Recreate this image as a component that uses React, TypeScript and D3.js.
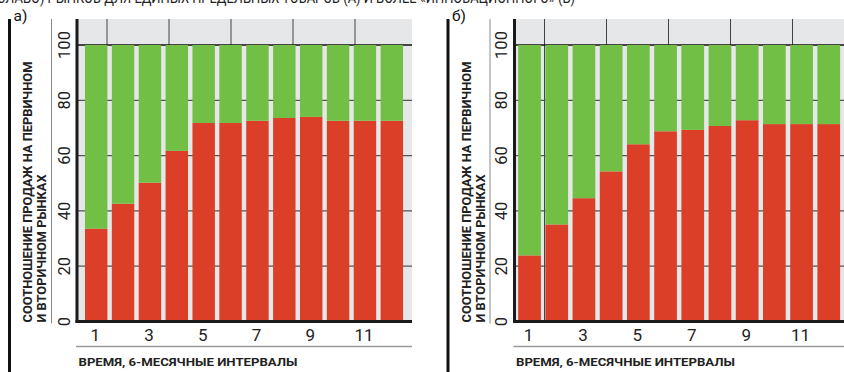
import React from 'react';
import * as d3 from 'd3';

// 6-month intervals
const intervals = [1, 2, 3, 4, 5, 6, 7, 8, 9, 10, 11, 12];
const xTickLabels = [1, 3, 5, 7, 9, 11];
const yTicks = [0, 20, 40, 60, 80, 100];

// panel а) — red (lower) and green (upper) shares, %
const redA = [33.6, 42.6, 50.2, 61.7, 71.8, 71.8, 72.6, 73.6, 74.0, 72.6, 72.6, 72.6];
const greenA = [66.4, 57.4, 49.8, 38.3, 28.2, 28.2, 27.4, 26.4, 26.0, 27.4, 27.4, 27.4];

// panel б)
const redB = [23.9, 35.1, 44.6, 54.3, 64.1, 68.8, 69.3, 70.7, 72.8, 71.4, 71.4, 71.4];
const greenB = [76.1, 64.9, 55.4, 45.7, 35.9, 31.2, 30.7, 29.3, 27.2, 28.6, 28.6, 28.6];

const yTitle1 = 'СООТНОШЕНИЕ ПРОДАЖ НА ПЕРВИЧНОМ';
const yTitle2 = 'И ВТОРИЧНОМ РЫНКАХ';
const xTitle = 'ВРЕМЯ, 6-МЕСЯЧНЫЕ ИНТЕРВАЛЫ';
const topTitle = 'СЛАБО) РЫНКОВ ДЛЯ ЕДИНЫХ ПРЕДЕЛЬНЫХ ТОВАРОВ (А) И БОЛЕЕ «ИННОВАЦИОННОГО» (Б)';

const RED = '#db3f28';
const GREEN = '#72bf45';
const BG = '#e6e7e8';
const FONT = 'Roboto, "DejaVu Sans", sans-serif';

const W = 844;
const H = 372;
const TOP = 19;

const y = d3.scaleLinear().domain([0, 100]).range([321.5, 45]);

type PanelProps = {
  label: string;
  red: number[];
  green: number[];
  borderX: number;
  axisX: number;
  plotRight: number;
  barRange: [number, number];
  longFirstLine?: boolean;
};

function Panel({ label, red, green, borderX, axisX, plotRight, barRange, longFirstLine }: PanelProps) {
  const x = d3.scaleBand<number>().domain(intervals).range(barRange).paddingInner(0.165).paddingOuter(0.08);
  const rows = intervals.map((k, i) => ({ k, red: red[i], green: green[i] }));
  const stack = d3.stack<any>().keys(['red', 'green'])(rows);
  const colors = [RED, GREEN];
  // decorative vertical rules in the top strip
  const bandLines = d3.range(5).map(i => axisX + 30 + i * 62);
  const thinX = borderX + 42;
  const y0 = y(0);

  return (
    <g>
      {/* outer left border */}
      <line x1={borderX} x2={borderX} y1={TOP} y2={H} stroke="#111" strokeWidth={3} />
      <text x={borderX + 4} y={21} fontFamily={FONT} fontSize={15.5} fill="#111">{label}</text>

      {/* y title */}
      <g transform={`translate(${borderX + 22.5},${y0 + 1}) rotate(-90)`}>
        <text x={0} y={0} fontFamily={FONT} fontWeight={700} fontSize={12.5} fill="#222"
          textLength={261} lengthAdjust="spacingAndGlyphs">{yTitle1}</text>
      </g>
      <g transform={`translate(${borderX + 36.5},${y0 + 1}) rotate(-90)`}>
        <text x={0} y={0} fontFamily={FONT} fontWeight={700} fontSize={12.5} fill="#222"
          textLength={148} lengthAdjust="spacingAndGlyphs">{yTitle2}</text>
      </g>
      <line x1={thinX} x2={thinX} y1={TOP} y2={y0 + 2} stroke="#8a8a8a" strokeWidth={1} />

      {/* plot background */}
      <rect x={axisX} y={TOP} width={plotRight - axisX} height={y0 - TOP} fill={BG} />
      {bandLines.map((bx, i) => (
        <line key={i} x1={bx} x2={bx} y1={TOP} y2={longFirstLine && i === 0 ? y0 : y(100)}
          stroke="#444" strokeWidth={1} />
      ))}

      {/* grid */}
      {yTicks.filter(t => t > 0).map(t => (
        <line key={t} x1={axisX} x2={plotRight} y1={y(t)} y2={y(t)}
          stroke={t === 100 ? '#111' : '#555'} strokeWidth={t === 100 ? 1.5 : 1.2} />
      ))}

      {/* bars */}
      {stack.map((s, si) => (
        <g key={si} fill={colors[si]}>
          {s.map((d: any) => (
            <rect key={d.data.k} x={x(d.data.k)} width={x.bandwidth()}
              y={y(d[1])} height={y(d[0]) - y(d[1])} />
          ))}
        </g>
      ))}

      {/* axes */}
      <line x1={axisX} x2={axisX} y1={TOP} y2={y0 + 1.5} stroke="#1a1a1a" strokeWidth={3} />
      <line x1={axisX - 1.5} x2={plotRight} y1={y0} y2={y0} stroke="#1a1a1a" strokeWidth={3} />

      {/* y tick labels */}
      {yTicks.map(t => (
        <g key={t} transform={`translate(${axisX - 7.5},${y(t)}) rotate(-90)`}>
          <text x={0} y={0} textAnchor="middle" fontFamily={FONT} fontSize={16.5} fill="#222">{t}</text>
        </g>
      ))}

      {/* x tick labels */}
      {xTickLabels.map(k => (
        <text key={k} x={(x(k) ?? 0) + x.bandwidth() / 2 - 1} y={341}
          textAnchor="middle" fontFamily={FONT} fontSize={17} fill="#222">{k}</text>
      ))}
      <line x1={axisX - 1} x2={plotRight} y1={346.5} y2={346.5} stroke="#9a9a9a" strokeWidth={1.5} />

      <text x={axisX + 1.5} y={366} fontFamily={FONT} fontWeight={700} fontSize={11.5} fill="#222"
        textLength={219} lengthAdjust="spacingAndGlyphs">{xTitle}</text>
    </g>
  );
}

export default function App() {
  return (
    <svg width={W} height={H} viewBox={`0 0 ${W} ${H}`}
      style={{ position: 'absolute', left: 0, top: 0, background: '#fff', display: 'block' }}>
      <text x={-3} y={3} fontFamily={FONT} fontSize={16} fill="#222"
        textLength={578} lengthAdjust="spacingAndGlyphs">{topTitle}</text>
      <Panel label="а)" red={redA} green={greenA} borderX={9.5} axisX={77} plotRight={412}
        barRange={[82.8, 405.2]} />
      <Panel label="б)" red={redB} green={greenB} borderX={448} axisX={514.5} plotRight={846}
        barRange={[516, 842.3]} longFirstLine />
    </svg>
  );
}
